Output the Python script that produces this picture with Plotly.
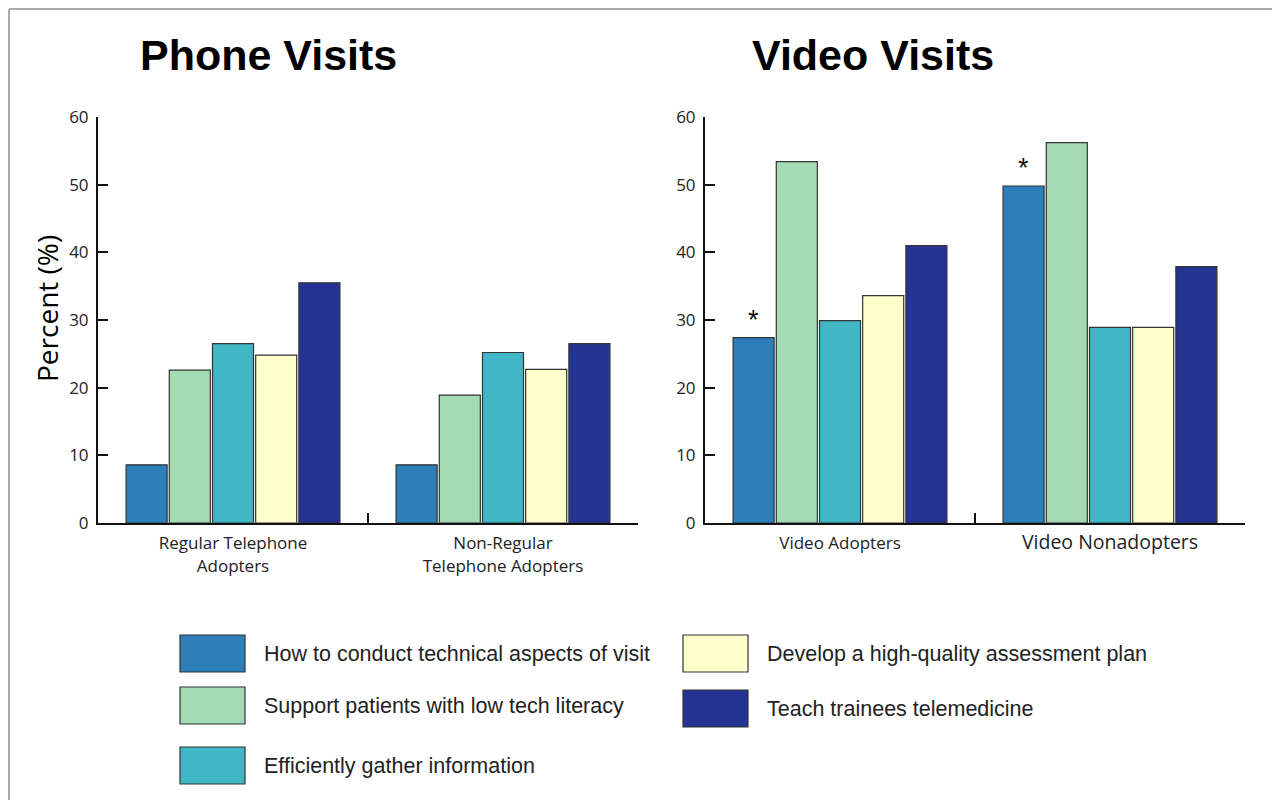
import plotly.graph_objects as go

# ---------------- data ----------------
phone_groups = ["Regular Telephone<br>Adopters", "Non-Regular<br>Telephone Adopters"]
video_groups = ["Video Adopters", "<span style='font-size:19.5px'>Video Nonadopters</span>"]

series_names = [
    "How to conduct technical aspects of visit",
    "Support patients with low tech literacy",
    "Efficiently gather information",
    "Develop a high-quality assessment plan",
    "Teach trainees telemedicine",
]
series_colors = ["#2c7fb8", "#a3dbb4", "#41b6c4", "#ffffcc", "#253494"]

phone_technical = [8.6, 8.6]
phone_support = [22.6, 18.9]
phone_gather = [26.5, 25.2]
phone_assess = [24.8, 22.7]
phone_teach = [35.5, 26.5]

video_technical = [27.4, 49.8]
video_support = [53.4, 56.2]
video_gather = [29.9, 28.9]
video_assess = [33.6, 28.9]
video_teach = [41.0, 37.9]

video_technical_marks = ["*", "*"]  # significance marks on technical-aspect bars

yticks = [0, 10, 20, 30, 40, 50, 60]

# ---------------- helpers ----------------
W, H = 1280, 800
OFF = 8  # page body margin in the screenshot
def px(x):
    return (x - OFF) / W
def py(y):
    return 1 - (y - OFF) / H

phone_series = [phone_technical, phone_support, phone_gather, phone_assess, phone_teach]
video_series = [video_technical, video_support, video_gather, video_assess, video_teach]
video_texts = [video_technical_marks, None, None, None, None]

fig = go.Figure()
for i, (name, color, vals) in enumerate(zip(series_names, series_colors, phone_series)):
    fig.add_trace(go.Bar(
        x=phone_groups, y=vals, name=name, marker=dict(color=color, line=dict(color="#333333", width=1.2)),
        xaxis="x", yaxis="y", showlegend=False, offsetgroup=str(i),
    ))
for i, (name, color, vals, txt) in enumerate(zip(series_names, series_colors, video_series, video_texts)):
    fig.add_trace(go.Bar(
        x=video_groups, y=vals, name=name, marker=dict(color=color, line=dict(color="#333333", width=1.2)),
        xaxis="x2", yaxis="y2", showlegend=False, offsetgroup=str(i),
        text=txt, textposition="outside", cliponaxis=False,
        textfont=dict(family="Liberation Sans", size=27, color="#111111"),
    ))

tick_font = dict(family="Open Sans", size=17, color="#222222")
common_x = dict(type="category", showline=True, linecolor="#111111", linewidth=2,
                ticks="inside", tickson="boundaries", ticklen=10, tickwidth=2, tickcolor="#111111",
                tickfont=tick_font, showgrid=False, zeroline=False, fixedrange=True, automargin=False,
                ticklabelstandoff=4)
common_y = dict(range=[0, 60], tickvals=yticks, showline=True, linecolor="#111111", linewidth=2,
                ticks="inside", ticklen=10, tickwidth=2, tickcolor="#111111",
                tickfont=tick_font, showgrid=False, zeroline=False, fixedrange=True, automargin=False,
                ticklabelstandoff=4)

y_dom = [py(523), py(117)]
fig.update_layout(
    width=W, height=H,
    margin=dict(l=0, r=0, t=0, b=0, pad=0),
    paper_bgcolor="white", plot_bgcolor="white",
    barmode="group", bargap=0.2, bargroupgap=0.05,
    xaxis=dict(domain=[px(98), px(638)], anchor="y", **common_x),
    yaxis=dict(domain=y_dom, anchor="x", **common_y),
    xaxis2=dict(domain=[px(705), px(1245)], anchor="y2", **common_x),
    yaxis2=dict(domain=y_dom, anchor="x2", **common_y),
    showlegend=False,
)

annotations = [
    dict(text="<b>Phone Visits</b>", x=px(268), y=py(55), xref="paper", yref="paper",
         showarrow=False, font=dict(family="Liberation Sans", size=43, color="black"),
         xanchor="center", yanchor="middle"),
    dict(text="<b>Video Visits</b>", x=px(873), y=py(55), xref="paper", yref="paper",
         showarrow=False, font=dict(family="Liberation Sans", size=43, color="black"),
         xanchor="center", yanchor="middle"),
    dict(text="Percent (%)", x=px(47), y=py(309), xref="paper", yref="paper", textangle=-90,
         showarrow=False, font=dict(family="Open Sans", size=28, color="black"),
         xanchor="center", yanchor="middle"),
]

shapes = [
    # outer frame (top and left edges)
    dict(type="line", xref="paper", yref="paper", x0=px(9), x1=1, y0=py(9), y1=py(9),
         line=dict(color="#aaaaaa", width=2)),
    dict(type="line", xref="paper", yref="paper", x0=px(9), x1=px(9), y0=py(9), y1=0,
         line=dict(color="#aaaaaa", width=2)),
]

# manual legend (large swatches), two columns
legend_slots = [(180, 635), (180, 687), (180, 747), (683, 635), (683, 690)]
for (sx, sy), name, color in zip(legend_slots, series_names, series_colors):
    shapes.append(dict(type="rect", xref="paper", yref="paper",
                       x0=px(sx), x1=px(sx + 65), y0=py(sy + 37), y1=py(sy),
                       fillcolor=color, line=dict(color="#333333", width=1.2)))
    annotations.append(dict(text=name, x=px(sx + 82), y=py(sy + 19), xref="paper", yref="paper",
                            showarrow=False, xanchor="left", yanchor="middle",
                            font=dict(family="Liberation Sans", size=21.5, color="#222222")))

fig.update_layout(annotations=annotations, shapes=shapes)

fig.write_html("out.html")
